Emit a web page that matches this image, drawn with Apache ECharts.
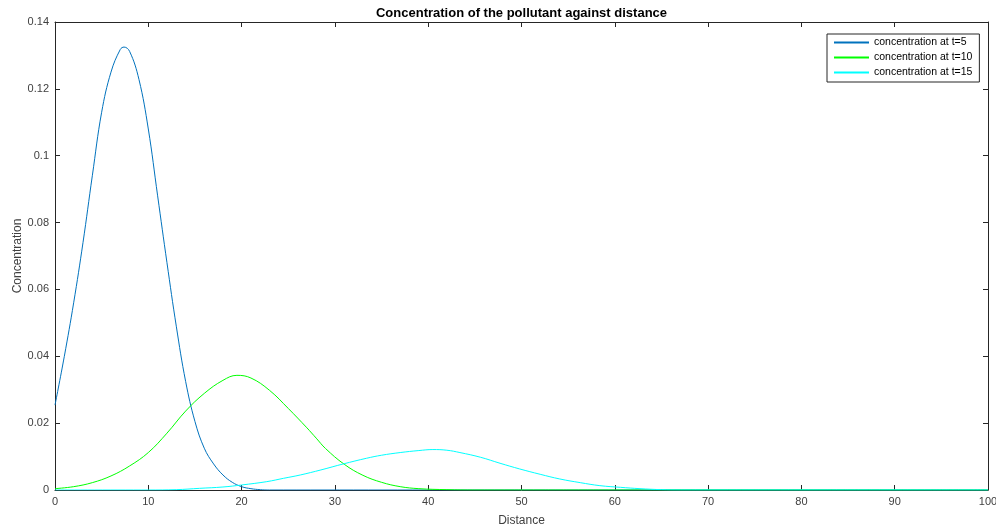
<!DOCTYPE html>
<html>
<head>
<meta charset="utf-8">
<script src="https://cdn.jsdelivr.net/npm/echarts@6/dist/echarts.min.js"></script>
<style>
  html, body { margin: 0; padding: 0; background: #ffffff; }
  #chart { width: 996px; height: 528px; }
</style>
</head>
<body>
<div id="chart"></div>
<script>
// Pollutant concentration profiles at three times
const seriesNames = ['concentration at t=5', 'concentration at t=10', 'concentration at t=15'];

const distT5 = [0, 1, 2, 3, 4, 5, 6, 7, 7.4, 8, 9, 10, 11, 12, 13, 14, 15, 16, 17, 18, 19, 20, 21, 22, 23, 100];
const concT5 = [0.0254, 0.040, 0.056, 0.074, 0.094, 0.113, 0.125, 0.1318, 0.1325, 0.1312, 0.1228, 0.108, 0.088, 0.068, 0.049, 0.0325, 0.0205, 0.0125, 0.0078, 0.0045, 0.0023, 0.0010, 0.0004, 0.0001, 0, 0];

const distT10 = [0, 2, 4, 6, 8, 10, 12, 14, 16, 18, 19.5, 21, 23, 25, 27, 28, 29, 31, 33, 35, 37, 39, 42, 45, 100];
const concT10 = [0.0004, 0.0010, 0.0022, 0.0042, 0.0072, 0.0112, 0.0170, 0.0236, 0.0289, 0.0328, 0.0343, 0.0335, 0.0298, 0.0244, 0.0186, 0.0155, 0.0124, 0.0077, 0.0044, 0.0023, 0.0010, 0.0004, 0.0001, 0, 0];

const distT15 = [0, 10, 13, 15.5, 18, 20, 22.7, 24.5, 26.3, 28.5, 30.9, 33.4, 35, 37, 39, 40.5, 42, 43.4, 45.6, 47.7, 49.8, 52, 54.1, 56.3, 58.4, 60.6, 62.7, 65, 67, 100];
const concT15 = [0, 0, 0.0001, 0.0005, 0.0009, 0.0015, 0.0025, 0.0035, 0.0045, 0.0060, 0.0078, 0.0095, 0.0104, 0.0112, 0.0118, 0.0121, 0.0119, 0.0112, 0.0098, 0.0080, 0.0063, 0.0047, 0.0033, 0.0022, 0.0013, 0.0008, 0.0004, 0.0001, 0, 0];

const xTicks = { min: 0, max: 100, interval: 10 };
const yTicks = { min: 0, max: 0.14, interval: 0.02 };

const lineColors = ['#0072BD', '#00FF00', '#00FFFF'];

function pairs(xs, ys) {
  return xs.map((x, i) => [x, ys[i]]);
}

const fontFamily = '"Liberation Sans", Arial, Helvetica, sans-serif';
const axisColor = '#262626';

function boxAxis(isLabelled, extra) {
  return Object.assign({
    type: 'value',
    axisLine: { show: true, onZero: false, lineStyle: { color: axisColor, width: 1 } },
    axisTick: { show: true, inside: true, length: 5, lineStyle: { color: axisColor, width: 1 } },
    axisLabel: isLabelled
      ? { show: true, color: '#404040', fontSize: 11, fontFamily: fontFamily, margin: 6 }
      : { show: false },
    splitLine: { show: false }
  }, extra);
}

const chart = echarts.init(document.getElementById('chart'), null, { renderer: 'canvas' });

chart.setOption({
  animation: false,
  backgroundColor: '#ffffff',
  title: {
    text: 'Concentration of the pollutant against distance',
    left: 521.5,
    textAlign: 'center',
    top: 7,
    padding: 0,
    textStyle: { fontSize: 13, fontWeight: 'bold', color: '#000000', fontFamily: fontFamily }
  },
  grid: { left: 55, right: 8, top: 22, bottom: 38, containLabel: false, outerBoundsMode: 'none' },
  legend: {
    orient: 'vertical',
    left: 827,
    top: 34,
    padding: [3, 7, 4, 7],
    itemGap: 4,
    itemWidth: 35,
    itemHeight: 2,
    icon: 'rect',
    borderColor: axisColor,
    borderWidth: 1,
    borderRadius: 0,
    backgroundColor: '#ffffff',
    textStyle: { fontSize: 10.5, color: '#000000', fontFamily: fontFamily },
    data: seriesNames
  },
  xAxis: [
    boxAxis(true, Object.assign({
      position: 'bottom',
      name: 'Distance',
      nameLocation: 'middle',
      nameGap: 25,
      nameMoveOverlap: false,
      nameTextStyle: { fontSize: 12, color: '#404040', fontFamily: fontFamily }
    }, xTicks)),
    boxAxis(false, Object.assign({ position: 'top' }, xTicks))
  ],
  yAxis: [
    boxAxis(true, Object.assign({
      position: 'left',
      name: 'Concentration',
      nameLocation: 'middle',
      nameGap: 31,
      nameMoveOverlap: false,
      nameTextStyle: { fontSize: 12, color: '#404040', fontFamily: fontFamily }
    }, yTicks)),
    boxAxis(false, Object.assign({ position: 'right' }, yTicks))
  ],
  series: [
    { data: pairs(distT5, concT5) },
    { data: pairs(distT10, concT10) },
    { data: pairs(distT15, concT15) }
  ].map((s, i) => ({
    name: seriesNames[i],
    type: 'line',
    xAxisIndex: 0,
    yAxisIndex: 0,
    data: s.data,
    smooth: 0.4,
    symbol: 'none',
    showSymbol: false,
    clip: true,
    lineStyle: { color: lineColors[i], width: 1 },
    itemStyle: { color: lineColors[i] },
    z: 3 + i
  }))
});
</script>
</body>
</html>
